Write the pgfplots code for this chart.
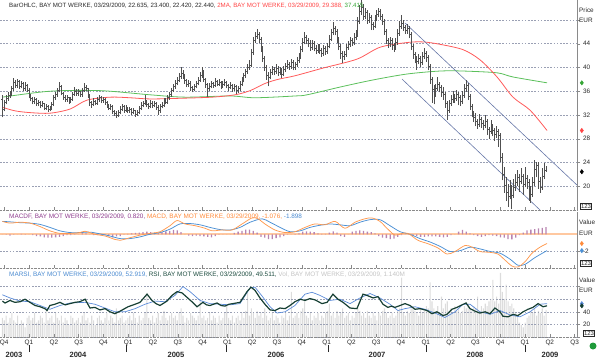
\documentclass[border=0pt]{standalone}
\usepackage{pgfplots}
\pgfplotsset{compat=1.18}
\usepackage{pgfplotstable}
\usepackage{fontspec}
\setmainfont{Liberation Sans}
\setsansfont{Liberation Sans}

\definecolor{barc}{HTML}{505050}
\definecolor{mared}{HTML}{FF5A5A}
\definecolor{magreen}{HTML}{5CC05C}
\definecolor{chan}{HTML}{6878A8}
\definecolor{macdo}{HTML}{FF9A50}
\definecolor{macdb}{HTML}{4A8FD4}
\definecolor{histc}{HTML}{B884B0}
\definecolor{zeroc}{HTML}{FFC8A0}
\definecolor{rsig}{HTML}{163F33}
\definecolor{rsib}{HTML}{5B8BD8}
\definecolor{volc}{HTML}{DCDCDC}
\definecolor{gridc}{HTML}{9AA0B4}
\definecolor{axc}{HTML}{8A8A8A}
\definecolor{txtc}{HTML}{282828}
\definecolor{legpur}{HTML}{8E3C8E}
\definecolor{legora}{HTML}{FF8A3A}
\definecolor{legblu}{HTML}{4A8AD0}
\definecolor{legred}{HTML}{FF4545}
\definecolor{leggrn}{HTML}{35A535}
\definecolor{legteal}{HTML}{1E4D40}
\definecolor{leggry}{HTML}{C4C4C4}
\definecolor{dotg}{HTML}{1E9A3A}

\newcommand{\legf}{\fontsize{6.4}{7.5}\selectfont}

\pgfdeclareplotmark{otick}{\pgfpathmoveto{\pgfqpoint{-1.2pt}{0pt}}\pgfpathlineto{\pgfqpoint{0pt}{0pt}}\pgfusepathqstroke}
\pgfdeclareplotmark{ctick}{\pgfpathmoveto{\pgfqpoint{0pt}{0pt}}\pgfpathlineto{\pgfqpoint{1.2pt}{0pt}}\pgfusepathqstroke}

\pgfplotstableread{
w O H L C V
-14 34.6 35.3 31.6 33.0 0.8
-13 33.0 34.6 32.6 34.2 0.7
-12 34.2 35.3 33.8 34.8 0.9
-11 34.8 35.8 34.4 35.3 0.6
-10 35.3 36.1 34.9 35.6 0.8
-9 35.6 36.9 35.2 36.4 1.0
-8 36.4 38.2 36.0 37.5 0.7
-7 37.5 37.9 36.5 37.0 0.6
-6 37.0 38.1 36.6 37.6 0.9
-5 37.6 37.9 36.4 36.9 0.5
-4 36.9 37.8 36.5 37.3 0.7
-3 37.3 37.6 36.1 36.5 0.6
-2 36.5 37.5 36.1 37.0 0.4
-1 37.0 37.3 35.8 36.2 0.8
0 36.2 36.5 34.8 35.2 0.9
1 35.2 35.6 34.3 34.8 0.7
2 34.8 35.1 33.8 34.3 0.8
3 34.3 35.0 33.9 34.6 1.0
4 34.6 34.9 33.5 33.9 0.6
5 33.9 34.6 33.5 34.1 0.7
6 34.1 34.4 33.1 33.6 0.9
7 33.6 34.3 33.3 33.9 0.8
8 33.9 34.1 32.8 33.2 0.6
9 33.2 33.9 32.9 33.5 1.1
10 33.5 33.7 32.5 32.9 0.7
11 32.9 33.5 32.6 33.1 0.8
12 33.1 34.2 32.9 33.8 0.9
13 33.8 35.3 33.5 34.9 0.6
14 34.9 35.8 34.5 35.4 1.0
15 35.4 36.6 35.0 36.2 0.8
16 36.2 37.6 35.8 36.8 0.7
17 36.8 37.1 35.3 35.6 0.9
18 35.6 35.9 34.6 35.0 0.6
19 35.0 35.4 34.2 34.6 0.8
20 34.6 35.3 34.2 34.9 0.7
21 34.9 35.1 33.9 34.3 0.5
22 34.3 35.1 34.0 34.7 0.9
23 34.7 35.9 34.4 35.5 0.8
24 35.5 36.7 35.2 36.0 0.6
25 36.0 36.3 35.2 35.6 0.7
26 35.6 36.3 35.2 35.9 0.8
27 35.9 36.1 35.0 35.4 0.6
28 35.4 36.6 35.1 36.2 0.9
29 36.2 37.4 35.9 36.7 1.0
30 36.7 37.1 36.0 36.4 0.7
31 36.4 36.6 34.8 35.2 0.8
32 35.2 35.5 33.5 34.1 0.6
33 34.1 34.4 33.2 33.8 0.9
34 33.8 34.8 33.5 34.3 0.7
35 34.3 34.6 33.6 34.0 0.5
36 34.0 35.0 33.7 34.6 0.8
37 34.6 35.4 34.2 34.9 0.9
38 34.9 35.2 34.0 34.4 0.7
39 34.4 35.1 34.1 34.7 0.6
40 34.7 34.9 33.7 34.1 0.8
41 34.1 34.4 33.2 33.6 1.0
42 33.6 33.9 32.8 33.2 0.7
43 33.2 33.9 32.9 33.5 0.9
44 33.5 33.7 32.2 32.6 0.8
45 32.6 32.9 31.9 32.3 0.6
46 32.3 32.6 31.5 32.0 1.2
47 32.0 32.8 31.7 32.4 0.7
48 32.4 33.5 32.1 33.0 0.8
49 33.0 33.8 32.7 33.4 0.9
50 33.4 33.7 32.4 32.8 0.6
51 32.8 33.6 32.5 33.2 0.7
52 33.2 33.4 32.3 32.7 0.8
53 32.7 33.4 32.4 33.0 0.9
54 33.0 33.2 32.0 32.4 0.7
55 32.4 33.1 32.1 32.7 1.0
56 32.7 32.9 31.7 32.1 0.8
57 32.1 32.9 31.8 32.5 0.6
58 32.5 33.5 32.2 33.1 0.9
59 33.1 34.2 32.8 33.7 0.7
60 33.7 34.4 33.3 33.9 0.8
61 33.9 35.3 33.6 34.3 1.0
62 34.3 34.6 33.4 33.8 1.85
63 33.8 34.1 33.0 33.4 0.8
64 33.4 34.5 33.1 34.0 0.7
65 34.0 34.3 33.2 33.6 0.9
66 33.6 34.4 33.3 33.9 0.6
67 33.9 34.2 32.9 33.3 0.8
68 33.3 33.6 32.0 32.7 1.0
69 32.7 33.8 32.4 33.4 0.7
70 33.4 34.2 33.1 33.7 0.9
71 33.7 34.9 33.4 34.4 1.1
72 34.4 34.8 33.8 34.2 0.8
73 34.2 35.4 33.9 35.0 0.7
74 35.0 35.9 34.6 35.5 0.9
75 35.5 36.6 35.1 36.2 1.0
76 36.2 37.3 35.9 36.8 0.8
77 36.8 37.9 36.4 37.4 0.9
78 37.4 38.4 37.0 37.9 0.7
79 37.9 39.1 37.5 38.5 1.0
80 38.5 40.1 38.1 39.0 1.2
81 39.0 39.5 38.1 38.6 0.9
82 38.6 38.9 37.3 37.8 0.6
83 37.8 38.1 36.7 37.1 0.8
84 37.1 37.9 36.7 37.4 0.7
85 37.4 37.7 36.1 36.6 1.0
86 36.6 36.9 35.8 36.3 0.9
87 36.3 37.2 36.0 36.8 0.8
88 36.8 37.8 36.5 37.3 0.7
89 37.3 38.4 37.0 37.9 0.9
90 37.9 39.2 37.6 38.6 1.6
91 38.6 40.0 38.3 39.2 0.8
92 39.2 39.5 37.6 38.0 0.9
93 38.0 38.3 36.6 37.1 0.7
94 37.1 37.4 35.1 36.5 0.8
95 36.5 37.4 36.1 36.9 1.0
96 36.9 37.8 36.5 37.3 0.7
97 37.3 37.6 36.6 37.0 0.9
98 37.0 38.2 36.7 37.6 0.8
99 37.6 37.9 36.8 37.2 0.6
100 37.2 38.0 36.9 37.5 0.9
101 37.5 37.8 36.3 36.8 0.7
102 36.8 37.7 36.5 37.2 0.8
103 37.2 38.0 36.9 37.5 1.0
104 37.5 37.8 36.5 37.0 1.3
105 37.0 37.3 36.0 36.6 0.8
106 36.6 37.5 36.3 37.0 0.7
107 37.0 37.3 35.9 36.4 0.9
108 36.4 37.3 36.1 36.8 0.6
109 36.8 37.1 35.6 36.1 0.8
110 36.1 36.9 35.7 36.4 0.9
111 36.4 37.7 36.1 37.2 0.7
112 37.2 38.4 36.9 37.9 1.0
113 37.9 39.1 37.5 38.6 0.8
114 38.6 39.8 38.2 39.3 1.1
115 39.3 40.6 38.9 40.0 1.85
116 40.0 41.3 39.6 40.4 0.9
117 40.4 43.1 40.1 42.5 1.2
118 42.5 45.2 42.1 44.6 1.0
119 44.6 45.9 44.1 45.3 0.8
120 45.3 46.4 44.8 45.6 1.1
121 45.6 46.0 44.2 44.8 0.9
122 44.8 45.2 42.6 43.2 1.0
123 43.2 43.6 41.0 41.6 0.8
124 41.6 42.0 39.4 40.0 1.2
125 40.0 40.4 37.9 38.6 0.9
126 38.6 39.2 36.8 38.4 0.7
127 38.4 39.8 38.0 39.2 0.8
128 39.2 40.3 38.8 39.7 1.0
129 39.7 40.1 38.7 39.3 0.7
130 39.3 40.5 38.9 39.8 0.9
131 39.8 40.2 38.5 39.1 0.8
132 39.1 40.1 38.7 39.5 0.6
133 39.5 39.9 38.2 38.8 0.9
134 38.8 40.2 38.5 39.6 0.8
135 39.6 40.8 39.2 40.2 1.0
136 40.2 41.2 39.8 40.6 0.7
137 40.6 41.0 39.6 40.2 0.9
138 40.2 41.4 39.8 40.8 1.9
139 40.8 41.2 39.5 40.1 0.8
140 40.1 41.0 39.6 40.5 0.9
141 40.5 41.8 40.1 41.2 1.0
142 41.2 42.4 40.8 41.8 0.8
143 41.8 43.6 41.4 43.0 1.1
144 43.0 44.9 42.6 44.3 1.2
145 44.3 46.0 43.9 45.0 1.5
146 45.0 45.5 43.9 44.5 0.9
147 44.5 44.9 43.4 44.0 0.8
148 44.0 44.6 42.8 43.4 1.0
149 43.4 44.7 43.0 44.1 0.7
150 44.1 44.5 42.7 43.3 0.9
151 43.3 43.7 42.2 42.8 0.8
152 42.8 44.0 42.4 43.5 1.0
153 43.5 43.9 42.3 42.9 0.7
154 42.9 43.3 41.8 42.4 0.9
155 42.4 43.8 42.0 43.2 0.8
156 43.2 43.6 42.1 42.7 1.0
157 42.7 44.2 42.3 43.6 1.1
158 43.6 45.4 43.2 44.8 1.4
159 44.8 46.5 44.4 45.9 0.9
160 45.9 47.7 45.5 46.6 1.0
161 46.6 47.0 45.4 46.0 0.8
162 46.0 46.4 44.2 44.8 1.1
163 44.8 45.2 42.9 43.5 0.9
164 43.5 43.9 41.5 42.4 1.0
165 42.4 42.8 40.7 41.8 1.2
166 41.8 42.8 41.3 42.2 0.8
167 42.2 44.0 41.8 43.4 0.9
168 43.4 44.5 43.0 43.9 1.0
169 43.9 45.2 43.5 44.6 0.7
170 44.6 45.0 43.6 44.2 0.9
171 44.2 45.8 43.8 45.0 0.8
172 45.0 46.3 44.6 45.6 1.0
173 45.6 48.5 45.2 47.8 1.2
174 47.8 50.6 47.3 49.5 1.1
175 49.5 51.3 48.8 50.2 0.9
176 50.2 50.7 48.0 48.6 1.0
177 48.6 50.0 48.1 49.3 0.8
178 49.3 49.7 47.4 48.0 1.1
179 48.0 49.1 47.5 48.4 0.9
180 48.4 48.8 46.3 47.2 0.8
181 47.2 47.7 46.3 47.0 1.0
182 47.0 48.9 46.6 48.3 0.9
183 48.3 49.6 47.8 49.0 0.7
184 49.0 50.0 48.5 49.4 1.0
185 49.4 49.8 48.0 48.6 0.9
186 48.6 49.0 47.2 47.8 1.1
187 47.8 48.2 45.5 46.0 1.2
188 46.0 46.4 44.0 44.6 1.0
189 44.6 45.0 43.3 44.0 0.8
190 44.0 45.2 43.5 44.5 0.9
191 44.5 44.9 43.0 43.7 1.0
192 43.7 44.1 42.6 43.4 0.8
193 43.4 44.9 43.0 44.2 0.9
194 44.2 46.5 43.8 45.8 1.1
195 45.8 47.8 45.3 47.0 1.2
196 47.0 48.8 46.5 47.5 2.5
197 47.5 48.0 46.2 46.8 1.0
198 46.8 47.2 45.6 46.2 0.9
199 46.2 47.3 45.7 46.6 1.1
200 46.6 47.0 44.9 45.5 1.0
201 45.5 45.9 42.9 43.5 1.2
202 43.5 43.9 41.5 42.2 1.3
203 42.2 42.6 40.7 41.5 1.1
204 41.5 41.9 39.6 41.0 1.0
205 41.0 42.3 40.5 41.6 0.9
206 41.6 42.0 40.1 40.8 1.2
207 40.8 42.6 40.4 41.9 1.0
208 41.9 43.2 41.4 42.4 1.1
209 42.4 42.8 41.0 41.7 1.3
210 41.7 42.1 39.5 40.2 1.2
211 40.2 40.6 37.3 38.0 2.3
212 38.0 38.4 34.0 36.3 1.5
213 36.3 37.0 33.8 35.6 1.2
214 35.6 37.2 35.0 36.4 1.1
215 36.4 38.4 36.0 37.1 1.3
216 37.1 37.5 35.8 36.6 1.0
217 36.6 37.0 35.0 35.8 1.7
218 35.8 36.7 34.6 35.4 1.2
219 35.4 35.8 33.2 34.0 1.4
220 34.0 34.4 31.2 32.8 1.5
221 32.8 34.6 32.4 33.9 1.1
222 33.9 35.3 33.5 34.6 1.2
223 34.6 36.0 34.1 35.2 1.0
224 35.2 35.6 34.0 34.8 1.3
225 34.8 36.2 34.4 35.4 1.1
226 35.4 35.8 33.6 34.9 1.2
227 34.9 35.3 33.5 34.3 1.0
228 34.3 36.0 33.9 35.3 1.1
229 35.3 37.2 34.9 36.4 1.3
230 36.4 37.9 35.9 37.0 1.2
231 37.0 37.4 34.5 35.2 1.4
232 35.2 35.6 32.8 33.4 1.2
233 33.4 33.8 31.6 32.3 1.1
234 32.3 32.7 30.8 31.6 1.3
235 31.6 32.3 30.1 30.9 1.2
236 30.9 31.4 29.6 30.5 1.7
237 30.5 32.2 30.0 31.2 1.1
238 31.2 31.7 29.8 30.6 1.3
239 30.6 31.2 29.4 30.2 1.2
240 30.2 32.0 29.8 30.9 1.4
241 30.9 31.3 28.6 29.6 1.3
242 29.6 30.0 28.0 29.2 1.5
243 29.2 31.2 28.8 30.1 1.6
244 30.1 30.5 28.4 29.4 2.4
245 29.4 29.8 27.6 28.8 1.5
246 28.8 30.2 28.2 29.3 1.7
247 29.3 29.7 26.6 28.6 1.4
248 28.6 29.0 24.0 24.8 2.7
249 24.8 25.6 21.0 22.0 1.9
250 22.0 23.3 18.9 20.2 1.6
251 20.2 21.5 17.5 19.0 2.2
252 19.0 20.4 16.5 18.3 1.5
253 18.3 21.0 17.8 19.6 1.3
254 19.6 20.2 16.1 18.4 1.4
255 18.4 21.2 18.0 19.8 1.2
256 19.8 22.1 19.2 20.6 1.0
257 20.6 22.8 20.0 21.5 0.9
258 21.5 22.0 19.0 20.9 0.6
259 20.9 23.0 20.3 21.6 0.5
260 21.6 22.0 18.5 20.3 0.4
261 20.3 23.3 19.8 21.4 0.6
262 21.4 21.9 19.5 20.7 0.8
263 20.7 21.2 17.6 19.5 0.9
264 19.5 20.1 17.2 18.6 1.1
265 18.6 21.6 18.2 20.6 1.0
266 20.6 24.4 20.1 22.8 1.2
267 22.8 24.0 21.5 23.6 0.9
268 23.6 24.0 19.6 20.8 1.1
269 20.8 21.5 18.9 19.8 1.0
270 19.8 23.0 19.4 21.6 1.2
271 21.6 23.9 21.2 22.9 0.9
272 22.635 23.400 22.420 22.440 1.14
}\price

\pgfplotstableread{
w h
-14 0.0
-12 -0.05
-10 -0.15
-8 -0.05
-6 0.0
-4 0.05
-2 0.02
0 0.0
2 -0.1
4 -0.2
6 -0.25
8 -0.35
10 -0.4
12 -0.38
14 -0.35
16 -0.3
18 -0.2
20 -0.1
22 -0.1
24 -0.05
26 0.0
28 0.1
30 0.12
32 0.0
34 -0.1
36 -0.1
38 -0.1
40 -0.1
42 -0.25
44 -0.35
46 -0.25
48 -0.2
50 -0.05
52 0.05
54 0.1
56 0.15
58 0.2
60 0.25
62 0.3
64 0.25
66 0.2
68 0.1
70 0.25
72 0.35
74 0.4
76 0.5
78 0.45
80 0.25
82 0.0
84 -0.15
86 -0.2
88 -0.15
90 -0.2
92 -0.25
94 -0.3
96 -0.35
98 -0.2
100 -0.05
102 0.0
104 0.0
106 0.0
108 0.15
110 0.3
112 0.4
114 0.55
116 0.55
118 0.4
120 0.2
122 -0.3
124 -0.4
126 -0.55
128 -0.55
130 -0.45
132 -0.35
134 -0.2
136 -0.05
138 0.0
140 -0.05
142 0.1
144 0.3
146 0.35
148 0.3
150 0.25
152 0.1
154 0.05
156 0.05
158 0.2
160 0.35
162 0.2
164 -0.2
166 -0.3
168 0.0
170 0.3
172 0.4
174 0.45
176 0.4
178 0.3
180 0.25
182 0.1
184 -0.2
186 -0.4
188 -0.45
190 -0.55
192 -0.5
194 -0.3
196 -0.1
198 0.0
200 -0.05
202 -0.15
204 -0.2
206 -0.3
208 -0.3
210 -0.25
212 -0.25
214 -0.25
216 -0.3
218 -0.35
220 -0.3
222 -0.1
224 0.0
226 0.3
228 0.5
230 0.3
232 0.1
234 -0.1
236 -0.2
238 -0.3
240 -0.2
242 -0.1
244 -0.15
246 -0.2
248 -0.35
250 -0.4
252 -0.55
254 -0.6
256 -0.4
258 -0.1
260 0.2
262 0.45
264 0.55
266 0.6
268 0.7
270 0.75
272 0.82
}\hist

\pgfplotstableread{
w m
-14 1.5
-10 1.3
-4.7 1.4
0.5 1.3
5.8 0.9
11 0.4
16.3 0.1
21.6 0.1
26.8 0.2
29.5 0.35
34.7 0.0
40 -0.2
45.2 -0.6
47.9 -0.7
53.1 -0.4
58.4 -0.1
63.6 0.1
68.9 0.3
74.2 1.0
77.9 1.6
82.1 1.2
87.3 1.0
92.6 0.7
96.3 0.4
101.5 0.5
106.8 0.5
112.1 1.2
117.3 1.9
120.5 1.8
124.1 1.2
129.4 0.5
134.7 0.2
139.9 0.3
145.2 0.8
150.4 1.2
155.7 1.1
161 1.5
166.2 0.7
171.5 1.4
176.7 1.8
180.4 1.9
184.6 1.5
188.3 0.7
192.5 -0.1
196.2 0.1
199.4 0.1
204.6 -0.7
209.9 -1.1
215.2 -1.6
219.9 -2.3
224.1 -2.0
229.4 -1.3
233.1 -1.5
237.2 -2.0
242.5 -2.1
246.7 -2.3
250.4 -3.0
254.1 -3.7
257.2 -3.8
260.9 -3.2
264.6 -2.2
268.8 -1.5
272.5 -1.076
}\macdM

\pgfplotstableread{
w s
-14 1.5
-10 1.45
-4.7 1.35
0.5 1.3
5.8 1.15
11 0.8
16.3 0.4
21.6 0.2
26.8 0.2
32.1 0.25
37.3 0.05
42.6 -0.2
47.9 -0.5
53.1 -0.5
58.4 -0.3
63.6 0.0
68.9 0.2
74.2 0.6
79.4 1.2
84.7 1.25
90 1.1
95.2 0.8
100.5 0.55
105.7 0.5
111 0.8
116.3 1.4
122.6 1.8
126.8 1.4
132.1 0.8
137.3 0.3
142.6 0.4
147.8 0.8
153.1 1.05
158.3 1.2
163.6 1.1
168.9 1.0
174.1 1.4
179.4 1.7
184.6 1.7
189.9 1.0
195.2 0.3
200.4 0.0
205.7 -0.5
211 -0.9
216.2 -1.4
221.5 -2.0
226.8 -1.9
232.1 -1.5
237.3 -1.7
242.6 -2.0
247.8 -2.2
253.1 -2.9
257.2 -3.6
260.9 -3.5
266.2 -2.7
272.5 -1.898
}\macdS

\pgfplotstableread{
w r
-14 57
-12.6 54
-10.0 58
-7.4 55
-4.7 56
-2.1 60
0.5 55
3.2 50
5.8 48
8.4 45
9.5 42
11.0 50
13.6 52
16.3 55
19.0 51
21.6 53
24.2 55
26.8 56
29.5 60
32.1 46
34.7 47
37.3 43
40.0 45
42.6 40
45.2 37
47.9 41
52.1 48
55.8 52
58.4 55
62.1 68
64.7 58
66.8 53
68.9 50
72.6 57
75.2 66
77.9 72
80.5 70
83.1 63
85.7 56
88.4 48
91.5 55
93.4 51
95.2 50
98.9 54
101.0 50
103.1 49
105.2 52
107.3 53
111.0 55
114.7 72
116.8 79
118.9 74
121.5 62
124.1 52
126.8 43
129.4 42
132.0 46
134.7 45
137.3 50
139.9 56
142.6 60
145.2 58
147.8 61
150.4 59
152.3 56
154.1 53
156.8 55
159.9 68
162.5 60
165.2 55
168.9 46
172.5 45
175.7 68
177.8 66
181.0 62
183.6 64
186.2 52
188.8 47
190.6 49
192.5 47
195.2 50
197.8 53
200.4 50
203.1 44
205.7 45
209.4 42
212.0 37
214.6 40
217.8 34
219.9 36
222.5 44
225.1 47
227.8 51
229.9 54
232.0 45
234.6 41
237.2 38
239.9 40
242.5 37
245.1 46
247.8 40
249.3 33
252.0 32
254.6 36
257.2 34
259.9 40
262.5 44
265.1 47
267.8 53
270.4 48
272.5 49.511
}\rsiG

\pgfplotstableread{
w a
-14 67
-10.0 62
-4.7 57
0.5 56
5.8 50
11.0 44
16.3 50
21.6 54
29.5 55
34.7 52
40.0 46
45.2 40
50.5 40
55.8 45
61.0 52
66.3 57
71.5 56
76.8 66
81.0 80
84.7 72
90.0 58
95.2 53
100.5 52
105.7 51
111.0 53
116.3 78
118.9 79
122.6 65
126.8 48
130.5 38
134.7 40
139.9 50
145.2 68
148.9 71
153.1 66
158.3 58
163.6 60
168.9 53
174.1 62
179.4 69
184.6 62
189.9 52
194.1 42
197.8 45
203.1 48
208.3 44
213.6 38
218.8 31
224.1 40
228.3 52
232.0 52
237.2 40
242.5 36
247.8 42
253.0 35
258.3 32
263.6 40
268.8 52
272.5 52.919
}\rsiB

\pgfplotsset{
  panel/.style={
    scale only axis, width=577pt, anchor=south west,
    xmin=-15.25, xmax=288.27,
    separate axis lines,
    axis x line*=bottom, axis y line*=right,
    x axis line style={axc, densely dotted},
    y axis line style={axc},
    xtick={-13.045,0,13.045,26.09,39.135,52.18,65.225,78.27,91.315,104.36,117.405,130.45,143.495,156.54,169.585,182.63,195.675,208.72,221.765,234.81,247.855,260.9,273.945,286.99},
    xticklabels={},
    xtick align=inside, ytick align=outside,
    major tick length=3pt,
    tick style={axc, solid, line width=0.4pt},
    ymajorgrids,
    grid style={gridc, dash pattern=on 1.6pt off 1.6pt, line width=0.45pt},
    tick label style={font=\fontsize{6.4}{7.5}\selectfont, text=txtc},
    /pgf/number format/assume math mode=true,
    yticklabel style={xshift=-0.5pt},
    clip=false,
  }
}

\begin{document}
\begin{tikzpicture}[x=1pt,y=1pt]
\path[use as bounding box] (0pt,0pt) rectangle (600pt,360pt);

% ---------------- PRICE PANEL ----------------
\begin{axis}[panel, at={(0pt,150pt)}, height=210pt,
  ymin=16, ymax=51.36,
  ytick={20,24,28,32,36,40,44,48},
  yticklabels={20,24,28,32,36,40,44,{}}]
\addplot[magreen, line width=0.8pt, smooth] coordinates {
(-14,35.0) (11,36.0) (37.3,36.1) (63.6,35.4) (82.1,35.0) (105.7,35.2) (118.9,34.9)
(139.9,35.2) (146.3,35.4) (163.6,36.7) (181,37.9) (198.9,38.9) (216.2,39.4)
(228.3,39.4) (246.2,39.1) (254.6,38.4) (272.5,37.415)};
\addplot[mared, line width=0.8pt, smooth] coordinates {
(-14,33.3) (-7.4,32.7) (0.5,32.4) (11,32.3) (21.6,33.0) (30.5,34.5) (42.6,35.0)
(53.1,34.9) (63.6,34.7) (78.4,34.8) (96.3,35.0) (108.4,35.4) (116.3,36.1)
(124.1,37.3) (131,38.0) (139.9,38.6) (154.7,39.9) (172.5,41.4) (184.6,43.4)
(198.9,44.2) (207.3,44.3) (216.2,43.9) (228.3,43.0) (237.2,41.3) (246.2,38.4)
(254.6,35.0) (263.6,32.8) (272.5,29.388)};
\addplot[chan, line width=0.6pt] coordinates {(197.8,47.49) (288.27,20.2)};
\addplot[chan, line width=0.6pt] coordinates {(196.2,38.05) (268.8,16.0)};
\addplot[draw=none, mark=none, forget plot, error bars/.cd, y dir=plus, y explicit, error mark=none,
  error bar style={barc, line width=0.8pt}]
  table[x=w, y=L, y error expr=\thisrow{H}-\thisrow{L}] {\price};
\addplot[draw=none, mark=otick, barc, mark options={line width=0.7pt, draw=barc}] table[x=w, y=O] {\price};
\addplot[draw=none, mark=ctick, barc, mark options={line width=0.7pt, draw=barc}] table[x=w, y=C] {\price};
\addplot[only marks, mark=diamond*, mark size=2.2pt, color=leggrn] coordinates {(290.8,37.415)};
\addplot[only marks, mark=diamond*, mark size=2.2pt, color=legred] coordinates {(290.8,29.388)};
\addplot[only marks, mark=diamond*, mark size=2.2pt, color=black] coordinates {(290.8,22.44)};
\end{axis}

% ---------------- MACD PANEL ----------------
\begin{axis}[panel, at={(0pt,92pt)}, height=56pt,
  ymin=-3.92, ymax=2.59, ytick={-2}, yticklabels={-2}]
\addplot[zeroc, line width=1.6pt] coordinates {(-15.25,0) (288.27,0)};
\addplot[ybar, bar width=1.3pt, bar shift=0pt, fill=histc, draw=none] table[x=w, y=h] {\hist};
\addplot[macdb, line width=0.75pt, smooth] table[x=w, y=s] {\macdS};
\addplot[macdo, line width=0.75pt, smooth] table[x=w, y=m] {\macdM};
\addplot[only marks, mark=diamond*, mark size=2.2pt, color=legora] coordinates {(290.8,-1.076)};
\addplot[only marks, mark=diamond*, mark size=2.2pt, color=macdb] coordinates {(290.8,-1.898)};
\end{axis}

% ---------------- VOLUME (behind RSI) ----------------
\begin{axis}[scale only axis, width=577pt, height=69pt, at={(0pt,23pt)}, anchor=south west,
  xmin=-15.25, xmax=288.27, ymin=0, ymax=2.9, hide axis]
\addplot[ybar, bar width=1.1pt, bar shift=0pt, fill=volc, draw=none] table[x=w, y=V] {\price};
\end{axis}

% ---------------- RSI PANEL ----------------
\begin{axis}[panel, at={(0pt,23pt)}, height=69pt,
  ymin=0, ymax=109.5, ytick={0,20,40,60,80}, yticklabels={{},20,40,{},{}},
  xticklabels={Q4,Q1,Q2,Q3,Q4,Q1,Q2,Q3,Q4,Q1,Q2,Q3,Q4,Q1,Q2,Q3,Q4,Q1,Q2,Q3,Q4,Q1,Q2,Q3},
  xticklabel style={yshift=1pt}]
\addplot[rsib, line width=0.7pt] table[x=w, y=a] {\rsiB};
\addplot[rsig, line width=1.2pt] table[x=w, y=r] {\rsiG};
\addplot[only marks, mark=diamond*, mark size=2.2pt, color=rsib] coordinates {(290.8,52.919)};
\addplot[only marks, mark=diamond*, mark size=2.2pt, color=rsig] coordinates {(290.8,49.511)};
\end{axis}

% ---------------- TEXTS ----------------
\node[anchor=west, inner sep=0pt, font=\fontsize{6.15}{7.5}\selectfont, text=txtc] at (9pt,354pt) {BarOHLC, BAY MOT WERKE, 03/29/2009, 22.635, 23.400, 22.420, 22.440, \textcolor{legred}{2MA, BAY MOT WERKE, 03/29/2009, 29.388, }\textcolor{leggrn}{37.415}};
\node[anchor=west, inner sep=0pt, font=\legf] at (9pt,143pt) {\textcolor{legpur}{MACDF, BAY MOT WERKE, 03/29/2009, 0.820, }\textcolor{legora}{MACD, BAY MOT WERKE, 03/29/2009, -1.076, }\textcolor{legblu}{-1.898}};
\node[anchor=west, inner sep=0pt, font=\legf] at (9pt,85pt) {\textcolor{legblu}{MARSI, BAY MOT WERKE, 03/29/2009, 52.919, }\textcolor{legteal}{RSI, BAY MOT WERKE, 03/29/2009, 49.511, }\textcolor{leggry}{Vol, BAY MOT WERKE, 03/29/2009, 1.140M}};

\node[anchor=west, inner sep=0pt, font=\legf, text=txtc] at (579pt,350pt) {Price};
\node[anchor=west, inner sep=0pt, font=\legf, text=txtc] at (579pt,340pt) {EUR};
\node[anchor=west, inner sep=0pt, font=\legf, text=txtc] at (579pt,138pt) {Value};
\node[anchor=west, inner sep=0pt, font=\legf, text=txtc] at (579pt,127pt) {EUR};
\node[anchor=west, inner sep=0pt, font=\legf, text=txtc] at (579pt,80pt) {Value};
\node[anchor=west, inner sep=0pt, font=\legf, text=txtc] at (579pt,70pt) {EUR};

\node[draw=txtc, line width=0.4pt, inner sep=0.6pt, font=\fontsize{6}{7}\selectfont, text=txtc] at (586pt,154pt) {123};
\node[draw=txtc, line width=0.4pt, inner sep=0.6pt, font=\fontsize{6}{7}\selectfont, text=txtc] at (586pt,97pt) {123};
\node[draw=txtc, line width=0.4pt, inner sep=0.6pt, font=\fontsize{6}{7}\selectfont, text=txtc] at (589pt,27pt) {123};
\node[circle, fill=dotg, inner sep=0pt, minimum size=7pt] at (593pt,14pt) {};

\foreach \xx/\yy in {14/2003, 78/2004, 176/2005, 276/2006, 377/2007, 475/2008, 550/2009}
  \node[inner sep=0pt, font=\fontsize{7.6}{9}\selectfont\bfseries, text=txtc] at (\xx pt,5pt) {\yy};
\foreach \xx in {29,126.5,226,328,426,525}
  \draw[txtc, line width=0.5pt] (\xx pt,8pt) -- (\xx pt,15pt);
\end{tikzpicture}
\end{document}
